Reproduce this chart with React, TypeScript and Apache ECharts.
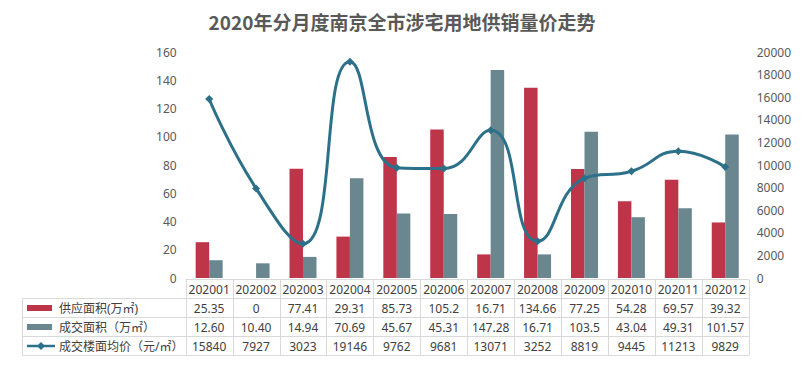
import React, { useEffect, useRef } from "react";
import * as echarts from "echarts";

const categories = ["202001","202002","202003","202004","202005","202006","202007","202008","202009","202010","202011","202012"];
const supplyArea = ["25.35","0","77.41","29.31","85.73","105.2","16.71","134.66","77.25","54.28","69.57","39.32"];
const dealArea = ["12.60","10.40","14.94","70.69","45.67","45.31","147.28","16.71","103.5","43.04","49.31","101.57"];
const avgPrice = ["15840","7927","3023","19146","9762","9681","13071","3252","8819","9445","11213","9829"];
const seriesNames = ["供应面积(万㎡)", "成交面积（万㎡）", "成交楼面均价（元/㎡）"];
const leftTicks = { min: 0, max: 160, interval: 20 };
const rightTicks = { min: 0, max: 20000, interval: 2000 };
const title = "2020年分月度南京全市涉宅用地供销量价走势";

const W = 804, H = 373;
const GRID_LEFT = 185.7, GRID_RIGHT_X = 748.7, GRID_TOP = 52, AXIS_Y = 278;
const RED = "#be3549", GRAY = "#6a878f", BLUE = "#2c7189";
const BORDER = "#d9d9d9", TXT = "#404040", AX = "#595959";
const FONT = "'Noto Sans', 'Noto Sans CJK SC', sans-serif";

export default function App() {
  const ref = useRef<HTMLDivElement>(null);
  useEffect(() => {
    const chart = echarts.init(ref.current!, null, { renderer: "svg" });
    const colW = (GRID_RIGHT_X - GRID_LEFT) / categories.length;
    const rows = [279.5, 298.5, 317.5, 336.5, 355.5];
    const g: any[] = [];
    const line = (x1: number, y1: number, x2: number, y2: number) =>
      g.push({ type: "line", shape: { x1, y1, x2, y2 }, style: { stroke: BORDER, lineWidth: 1 }, silent: true });
    line(GRID_LEFT, rows[0], GRID_RIGHT_X, rows[0]);
    for (let r = 1; r < rows.length; r++) line(22.5, rows[r], GRID_RIGHT_X, rows[r]);
    line(22.5, rows[1], 22.5, rows[4]);
    for (let i = 0; i <= categories.length; i++) {
      const x = Math.round(GRID_LEFT + i * colW) + 0.5;
      line(x, rows[0], x, rows[4]);
    }
    const cellText = (txt: string, cx: number, cy: number, align = "center") =>
      g.push({ type: "text", x: cx, y: cy, silent: true,
        style: { text: txt, fill: TXT, font: `12px ${FONT}`, align, verticalAlign: "middle" } });
    const tableRows = [categories, supplyArea, dealArea, avgPrice];
    tableRows.forEach((arr, r) => {
      const cy = (rows[r] + rows[r + 1]) / 2 + 0.5;
      arr.forEach((v, i) => cellText(v, GRID_LEFT + (i + 0.5) * colW, cy));
    });
    const ly = (r: number) => (rows[r] + rows[r + 1]) / 2;
    g.push({ type: "rect", shape: { x: 27, y: ly(1) - 3, width: 25, height: 6 }, style: { fill: RED }, silent: true });
    g.push({ type: "rect", shape: { x: 27, y: ly(2) - 3, width: 25, height: 6 }, style: { fill: GRAY }, silent: true });
    g.push({ type: "line", shape: { x1: 27, y1: ly(3), x2: 55, y2: ly(3) }, style: { stroke: BLUE, lineWidth: 2.5 }, silent: true });
    g.push({ type: "polygon", shape: { points: [[41, ly(3) - 4], [45, ly(3)], [41, ly(3) + 4], [37, ly(3)]] }, style: { fill: BLUE }, silent: true });
    seriesNames.forEach((n, k) => cellText(n, 59, ly(k + 1) + 0.5, "left"));

    chart.setOption({
      animation: false,
      title: {
        text: title, left: "center", top: 7,
        textStyle: { fontSize: 19, fontWeight: "bold", color: AX, fontFamily: "'Noto Sans CJK SC', sans-serif" },
      },
      legend: { show: false },
      grid: { left: GRID_LEFT, right: W - GRID_RIGHT_X, top: GRID_TOP, bottom: H - AXIS_Y, containLabel: false },
      xAxis: {
        type: "category", data: categories,
        axisLine: { show: false }, axisTick: { show: false }, axisLabel: { show: false }, splitLine: { show: false },
      },
      yAxis: [
        { type: "value", ...leftTicks, splitLine: { show: false }, axisLine: { show: false }, axisTick: { show: false },
          axisLabel: { color: AX, fontSize: 12, fontFamily: FONT, margin: 9, formatter: (v: number) => String(v) } },
        { type: "value", ...rightTicks, splitLine: { show: false }, axisLine: { show: false }, axisTick: { show: false },
          axisLabel: { color: AX, fontSize: 12, fontFamily: FONT, margin: 8, formatter: (v: number) => String(v) } },
      ],
      series: [
        { name: seriesNames[0], type: "bar", data: supplyArea.map(Number), barWidth: 13.5, barGap: "0%", itemStyle: { color: RED } },
        { name: seriesNames[1], type: "bar", data: dealArea.map(Number), barWidth: 13.5, barGap: "0%", itemStyle: { color: GRAY } },
        { name: seriesNames[2], type: "line", yAxisIndex: 1, data: avgPrice.map(Number), smooth: 0.5,
          symbol: "diamond", symbolSize: 8, showSymbol: true,
          lineStyle: { color: BLUE, width: 3 }, itemStyle: { color: BLUE } },
      ],
      graphic: g,
    });
    return () => chart.dispose();
  }, []);
  return <div ref={ref} style={{ position: "fixed", left: 0, top: 0, width: W, height: H, background: "#fff" }} />;
}
